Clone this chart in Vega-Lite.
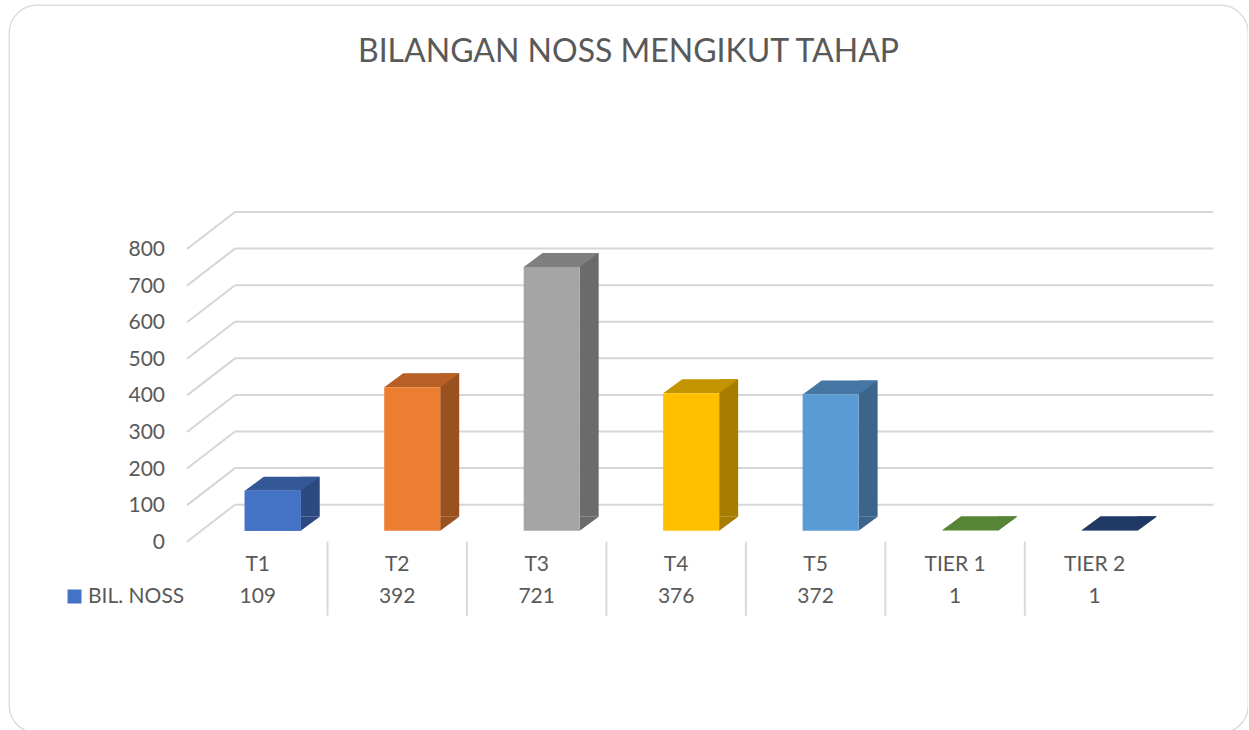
{
  "$schema": "https://vega.github.io/schema/vega-lite/v6.json",
  "width": 1239,
  "height": 728,
  "autosize": {"type": "none"},
  "padding": {"left": 9, "top": 5, "right": 0, "bottom": 0},
  "background": "white",
  "config": {
    "view": {"stroke": "#D9D9D9", "strokeWidth": 1.3, "cornerRadius": 28, "fill": "white"},
    "font": "Lato"
  },
  "title": {
    "text": "BILANGAN NOSS MENGIKUT TAHAP",
    "anchor": "middle",
    "frame": "group",
    "offset": -89,
    "baseline": "alphabetic",
    "font": "Lato",
    "fontSize": 32,
    "fontWeight": "normal",
    "color": "#595959"
  },
  "datasets": {
    "noss": [
      {"tahap": "T1", "bil": 109},
      {"tahap": "T2", "bil": 392},
      {"tahap": "T3", "bil": 721},
      {"tahap": "T4", "bil": 376},
      {"tahap": "T5", "bil": 372},
      {"tahap": "TIER 1", "bil": 1},
      {"tahap": "TIER 2", "bil": 1}
    ],
    "grid": [
      {"v": 0}, {"v": 100}, {"v": 200}, {"v": 300}, {"v": 400},
      {"v": 500}, {"v": 600}, {"v": 700}, {"v": 800}
    ]
  },
  "resolve": {"scale": {"color": "independent"}},
  "layer": [
    {
      "data": {"name": "grid"},
      "mark": {"type": "rule", "stroke": "#D6D6D6", "strokeWidth": 2, "xOffset": -1, "x2Offset": 47, "yOffset": 11, "y2Offset": -26},
      "encoding": {
        "x": {"datum": "T1", "type": "nominal", "bandPosition": 0,
              "scale": {"type": "band", "domain": ["T1", "T2", "T3", "T4", "T5", "TIER 1", "TIER 2"], "range": [179, 1155.3], "paddingInner": 0, "paddingOuter": 0},
              "axis": null},
        "x2": {"datum": "T1", "bandPosition": 0},
        "y": {"field": "v", "type": "quantitative",
              "scale": {"domain": [0, 800], "range": [525.7, 233], "nice": false, "zero": true},
              "axis": null},
        "y2": {"field": "v"}
      }
    },
    {
      "data": {"name": "grid"},
      "mark": {"type": "rule", "stroke": "#D6D6D6", "strokeWidth": 2, "xOffset": 47, "x2Offset": 49, "yOffset": -26},
      "encoding": {
        "x": {"datum": "T1", "type": "nominal", "bandPosition": 0, "axis": null},
        "x2": {"datum": "TIER 2", "bandPosition": 1},
        "y": {"field": "v", "type": "quantitative", "axis": null}
      }
    },
    {
      "data": {"name": "grid"},
      "mark": {"type": "text", "font": "Lato", "fontSize": 21, "fill": "#595959", "align": "right", "baseline": "middle", "xOffset": -23, "yOffset": 12},
      "encoding": {
        "x": {"datum": "T1", "type": "nominal", "bandPosition": 0, "axis": null},
        "y": {"field": "v", "type": "quantitative", "axis": null},
        "text": {"field": "v", "type": "quantitative"}
      }
    },
    {
      "data": {"name": "noss"},
      "transform": [{"filter": "datum.tahap != 'T1'"}],
      "mark": {"type": "rule", "stroke": "#D9D9D9", "strokeWidth": 2, "yOffset": 11, "y2Offset": 85},
      "encoding": {
        "x": {"field": "tahap", "type": "nominal", "bandPosition": 0, "axis": null},
        "y": {"datum": 0, "type": "quantitative", "axis": null},
        "y2": {"datum": 0}
      }
    },
    {
      "data": {"name": "noss"},
      "mark": {"type": "bar", "width": 19, "xOffset": 52.5, "yOffset": -14, "y2Offset": -14},
      "encoding": {
        "x": {"field": "tahap", "type": "nominal", "axis": null},
        "y": {"field": "bil", "type": "quantitative", "axis": null},
        "y2": {"datum": 0},
        "color": {"field": "tahap", "type": "nominal", "legend": null,
                  "scale": {"domain": ["T1", "T2", "T3", "T4", "T5", "TIER 1", "TIER 2"],
                            "range": ["#2C4A7F", "#9A5120", "#6B6B6B", "#A67D00", "#3B658A", "#49702E", "#192C4E"]}}
      }
    },
    {
      "data": {"name": "noss"},
      "mark": {"type": "point", "shape": "M28,0L28,-14L47,-14Z", "size": 4, "filled": true, "opacity": 1, "strokeWidth": 0, "xOffset": 15},
      "encoding": {
        "x": {"field": "tahap", "type": "nominal", "axis": null},
        "y": {"datum": 0, "type": "quantitative", "axis": null},
        "color": {"field": "tahap", "type": "nominal", "legend": null,
                  "scale": {"domain": ["T1", "T2", "T3", "T4", "T5", "TIER 1", "TIER 2"],
                            "range": ["#2C4A7F", "#9A5120", "#6B6B6B", "#A67D00", "#3B658A", "#49702E", "#192C4E"]}}
      }
    },
    {
      "data": {"name": "noss"},
      "mark": {"type": "point", "shape": "M-28,0L28,0L47,-14L-9,-14Z", "size": 4, "filled": true, "opacity": 1, "strokeWidth": 0, "xOffset": 15},
      "encoding": {
        "x": {"field": "tahap", "type": "nominal", "axis": null},
        "y": {"field": "bil", "type": "quantitative", "axis": null},
        "color": {"field": "tahap", "type": "nominal", "legend": null,
                  "scale": {"domain": ["T1", "T2", "T3", "T4", "T5", "TIER 1", "TIER 2"],
                            "range": ["#345897", "#B66026", "#7F7F7F", "#C49400", "#4677A4", "#568537", "#1F3864"]}}
      }
    },
    {
      "data": {"name": "noss"},
      "mark": {"type": "bar", "width": 56, "xOffset": 15},
      "encoding": {
        "x": {"field": "tahap", "type": "nominal", "axis": null},
        "y": {"field": "bil", "type": "quantitative", "axis": null},
        "y2": {"datum": 0},
        "color": {"field": "tahap", "type": "nominal", "legend": null,
                  "scale": {"domain": ["T1", "T2", "T3", "T4", "T5", "TIER 1", "TIER 2"],
                            "range": ["#4472C4", "#ED7D31", "#A5A5A5", "#FFC000", "#5B9BD5", "#70AD47", "#264478"]}}
      }
    },
    {
      "data": {"name": "noss"},
      "transform": [{"filter": "datum.tahap == 'T1'"}],
      "mark": {"type": "bar", "width": 56, "xOffset": 15},
      "encoding": {
        "x": {"field": "tahap", "type": "nominal", "axis": null},
        "y": {"field": "bil", "type": "quantitative", "axis": null},
        "y2": {"datum": 0},
        "color": {"datum": "BIL. NOSS", "type": "nominal",
                  "scale": {"range": ["#4472C4"]},
                  "legend": {"orient": "none", "legendX": 55, "legendY": 581, "title": null, "padding": 0, "rowPadding": 0,
                             "symbolType": "square", "symbolSize": 196, "symbolStrokeWidth": 0,
                             "labelFont": "Lato", "labelFontSize": 21, "labelColor": "#595959", "labelOffset": 3}}
      }
    },
    {
      "data": {"name": "noss"},
      "mark": {"type": "text", "font": "Lato", "fontSize": 21, "fill": "#595959", "baseline": "alphabetic", "align": "center", "yOffset": 40},
      "encoding": {
        "x": {"field": "tahap", "type": "nominal", "axis": null},
        "y": {"datum": 0, "type": "quantitative", "axis": null},
        "text": {"field": "tahap"}
      }
    },
    {
      "data": {"name": "noss"},
      "mark": {"type": "text", "font": "Lato", "fontSize": 21, "fill": "#595959", "baseline": "alphabetic", "align": "center", "yOffset": 72.6},
      "encoding": {
        "x": {"field": "tahap", "type": "nominal", "axis": null},
        "y": {"datum": 0, "type": "quantitative", "axis": null},
        "text": {"field": "bil", "type": "quantitative"}
      }
    }
  ]
}
